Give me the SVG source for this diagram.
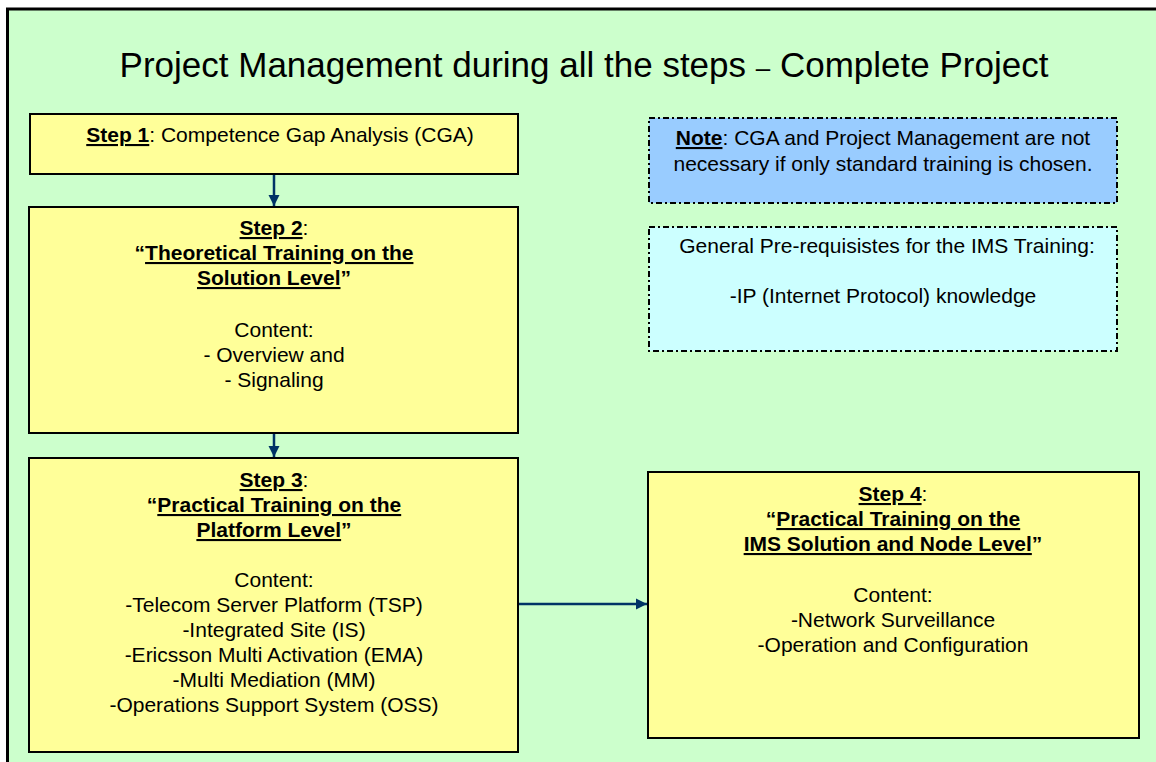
<svg xmlns="http://www.w3.org/2000/svg" width="1156" height="762" viewBox="0 0 1156 762">
<defs>
<style>
text{font-family:"Liberation Sans",Arial,sans-serif;font-size:21px;fill:#000;text-anchor:middle}
.t{font-size:35px}
.b{font-weight:bold}
.u{text-decoration:underline}
.step{fill:#FFFF99;stroke:#000;stroke-width:2}
.dd{stroke:#000;stroke-width:2;stroke-dasharray:6 3 2 3}
.con{stroke:#003366;stroke-width:2.5;fill:none}
</style>
<marker id="ah" viewBox="0 0 10 10" refX="10" refY="5" markerWidth="4.5" markerHeight="4.5" orient="auto" markerUnits="strokeWidth">
<path d="M0,0 L10,5 L0,10 z" fill="#003366"/>
</marker>
</defs>
<rect x="0" y="0" width="1156" height="762" fill="#fff"/>
<rect id="frame" x="7.5" y="9" width="1200" height="800" fill="#CCFFCC" stroke="#000" stroke-width="3"/>
<text id="title" class="t" x="584" y="77">Project Management during all the steps <tspan font-size="26">–</tspan> Complete Project</text>

<g id="connectors">
<line class="con" x1="274" y1="174" x2="274" y2="206" marker-end="url(#ah)"/>
<line class="con" x1="274" y1="433" x2="274" y2="457" marker-end="url(#ah)"/>
<line class="con" x1="518" y1="604" x2="647" y2="604" marker-end="url(#ah)"/>
</g>

<g id="step1">
<rect class="step" x="30" y="114" width="488" height="60"/>
<text x="280" y="142"><tspan class="b u">Step 1</tspan>: Competence Gap Analysis (CGA)</text>
</g>

<g id="step2">
<rect class="step" x="29" y="207" width="489" height="226"/>
<text x="274" y="235"><tspan class="b u">Step 2</tspan>:</text>
<text x="274" y="260" class="b">“<tspan class="u">Theoretical Training on the</tspan></text>
<text x="274" y="285" class="b"><tspan class="u">Solution Level</tspan>”</text>
<text x="274" y="337">Content:</text>
<text x="274" y="362">- Overview and</text>
<text x="274" y="387">- Signaling</text>
</g>

<g id="step3">
<rect class="step" x="29" y="458" width="489" height="294"/>
<text x="274" y="487"><tspan class="b u">Step 3</tspan>:</text>
<text x="274" y="512" class="b">“<tspan class="u">Practical Training on the</tspan></text>
<text x="274" y="537" class="b"><tspan class="u">Platform Level</tspan>”</text>
<text x="274" y="587">Content:</text>
<text x="274" y="612">-Telecom Server Platform (TSP)</text>
<text x="274" y="637">-Integrated Site (IS)</text>
<text x="274" y="662">-Ericsson Multi Activation (EMA)</text>
<text x="274" y="687">-Multi Mediation (MM)</text>
<text x="274" y="712">-Operations Support System (OSS)</text>
</g>

<g id="step4">
<rect class="step" x="648" y="472" width="491" height="266"/>
<text x="893" y="501"><tspan class="b u">Step 4</tspan>:</text>
<text x="893" y="526" class="b">“<tspan class="u">Practical Training on the</tspan></text>
<text x="893" y="551" class="b"><tspan class="u">IMS Solution and Node Level</tspan>”</text>
<text x="893" y="602">Content:</text>
<text x="893" y="627">-Network Surveillance</text>
<text x="893" y="652">-Operation and Configuration</text>
</g>

<g id="note">
<rect class="dd" x="649" y="118" width="468" height="85" fill="#99CCFF"/>
<text x="883" y="145"><tspan class="b u">Note</tspan>: CGA and Project Management are not</text>
<text x="883" y="171">necessary if only standard training is chosen.</text>
</g>

<g id="prereq">
<rect class="dd" x="649" y="227" width="468" height="124" fill="#CCFFFF"/>
<text x="887" y="253">General Pre-requisistes for the IMS Training:</text>
<text x="883" y="303">-IP (Internet Protocol) knowledge</text>
</g>
</svg>
